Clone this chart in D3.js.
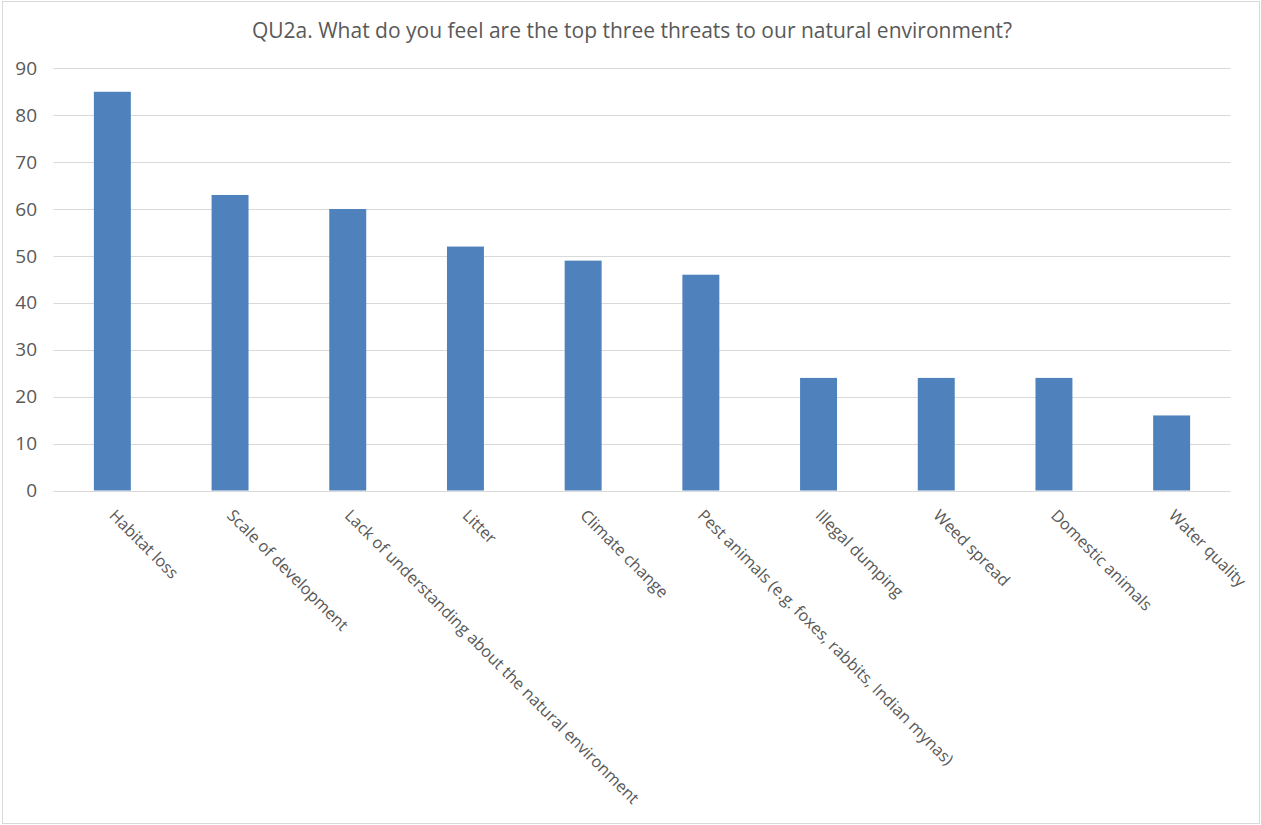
<!DOCTYPE html>
<html>
<head>
<meta charset="utf-8">
<script src="https://cdn.jsdelivr.net/npm/d3@7"></script>
<style>
  html, body { margin: 0; padding: 0; background: #fff; }
  svg { display: block; }
  text { font-family: "Open Sans", "Noto Sans", sans-serif; fill: #595959; }
</style>
</head>
<body>
<svg id="chart" width="1261" height="825"></svg>
<script>
const title = "QU2a. What do you feel are the top three threats to our natural environment?";
const categories = [
  "Habitat loss",
  "Scale of development",
  "Lack of understanding about the natural environment",
  "Litter",
  "Climate change",
  "Pest animals (e.g. foxes, rabbits, Indian mynas)",
  "Illegal dumping",
  "Weed spread",
  "Domestic animals",
  "Water quality"
];
const values = [85, 63, 60, 52, 49, 46, 24, 24, 24, 16];
const yTicks = [0, 10, 20, 30, 40, 50, 60, 70, 80, 90];

const svg = d3.select("#chart");

// outer border
svg.append("rect")
  .attr("x", 2.5).attr("y", 1.5)
  .attr("width", 1257).attr("height", 822)
  .attr("fill", "#fff").attr("stroke", "#d9d9d9").attr("stroke-width", 1);

const plotLeft = 53.5, plotRight = 1230.5, plotTop = 68.3, plotBottom = 490.5;

const x = d3.scaleBand()
  .domain(categories)
  .range([plotLeft, plotRight])
  .paddingInner(0.686)
  .paddingOuter(0.343);

const y = d3.scaleLinear()
  .domain([0, 90])
  .range([plotBottom, plotTop]);

// gridlines
svg.append("g")
  .selectAll("line")
  .data(yTicks)
  .join("line")
  .attr("x1", plotLeft).attr("x2", plotRight)
  .attr("y1", d => Math.round(y(d)) + 0.5)
  .attr("y2", d => Math.round(y(d)) + 0.5)
  .attr("stroke", "#d9d9d9").attr("stroke-width", 1);

// y axis labels
const yAxis = d3.axisLeft(y).tickValues(yTicks).tickSize(0).tickPadding(0);
const yg = svg.append("g")
  .attr("transform", `translate(37,0)`)
  .call(yAxis);
yg.select(".domain").remove();
yg.selectAll("text")
  .attr("font-size", "19px")
  .attr("font-family", "'Open Sans', 'Noto Sans', sans-serif")
  .attr("fill", "#595959");

// bars
svg.append("g")
  .selectAll("rect")
  .data(values)
  .join("rect")
  .attr("x", (d, i) => x(categories[i]))
  .attr("width", x.bandwidth())
  .attr("y", d => y(d))
  .attr("height", d => y(0) - y(d))
  .attr("fill", "#4f81bd");

// x axis labels
const xAxis = d3.axisBottom(x).tickSize(0).tickPadding(0);
const xg = svg.append("g")
  .attr("transform", `translate(0,${plotBottom})`)
  .call(xAxis);
xg.select(".domain").remove();
xg.selectAll(".tick text")
  .attr("font-size", "16.3px")
  .attr("font-family", "'Open Sans', 'Noto Sans', sans-serif")
  .attr("fill", "#595959")
  .attr("text-anchor", "start")
  .attr("dy", "0")
  .attr("y", 0)
  .attr("transform", "translate(-4,26) rotate(45)");

// title
svg.append("text")
  .attr("x", 632)
  .attr("y", 38)
  .attr("text-anchor", "middle")
  .attr("font-size", "21px")
  .text(title);
</script>
</body>
</html>
